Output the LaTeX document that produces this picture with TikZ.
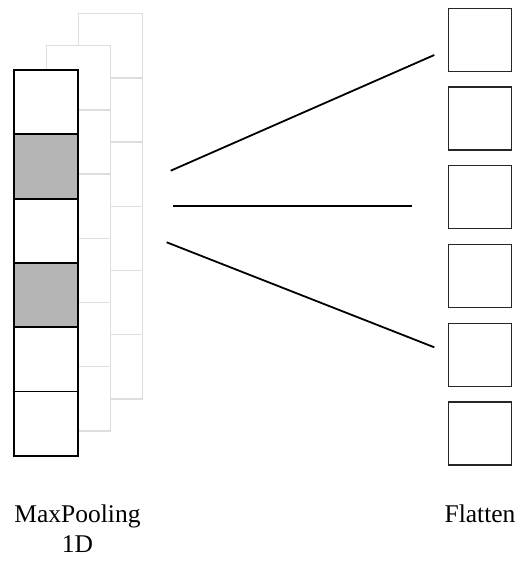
\documentclass[tikz,border=0pt]{standalone}
\usepackage{fontspec}
\setmainfont{Liberation Serif}
\begin{document}
\begin{tikzpicture}[x=1pt,y=-1pt,
  backcell/.style={draw=black!13,line width=1.4pt,fill=white,anchor=north west,
    minimum width=63.5pt,minimum height=64.2pt,inner sep=0pt,outer sep=0pt},
  frontcell/.style={draw=black,line width=1.8pt,fill=white,anchor=north west,
    minimum width=63.5pt,minimum height=64.3pt,inner sep=0pt,outer sep=0pt},
  maxcell/.style={frontcell,fill=black!29},
  flatcell/.style={draw=black!85,line width=1.3pt,fill=white,anchor=north west,
    minimum width=63pt,minimum height=63pt,inner sep=0pt,outer sep=0pt},
  link/.style={draw=black,line width=1.8pt},
  label/.style={font=\fontsize{25.5}{30}\selectfont,align=center,anchor=base,inner sep=0pt}]
\useasboundingbox (0,0) rectangle (517,563);

% rearmost feature map
\foreach \i in {0,...,5}
  \node[backcell] (c\i) at (78.7,13.7+64.2*\i) {};
% middle feature map
\foreach \i in {0,...,5}
  \node[backcell] (b\i) at (46.7,45.7+64.2*\i) {};
% front feature map, pooled maxima shaded
\foreach \i in {0,...,5}{
  \ifnum\i=1 \def\cellstyle{maxcell}\else\ifnum\i=3 \def\cellstyle{maxcell}\else\def\cellstyle{frontcell}\fi\fi
  \node[\cellstyle] (a\i) at (14.3,70+64.3*\i) {};
}

% flattened vector
\foreach \i [evaluate=\i as \y using {8.3+78.74*\i}] in {0,...,5}
  \node[flatcell] (f\i) at (448.5,\y) {};

% fan of connecting strokes
\coordinate (u1) at (170.7,170.7);
\coordinate (u2) at (434.3,55);
\coordinate (m1) at (173.3,206);
\coordinate (m2) at (411.7,206);
\coordinate (l1) at (166.7,242.3);
\coordinate (l2) at (434.3,347.3);
\draw[link] (u1) -- (u2);
\draw[link] (m1) -- (m2);
\draw[link] (l1) -- (l2);

% captions (a two-line node sits on the baseline of its last line)
\node[label] (pool) at (77.5,552) {MaxPooling\\1D};
\node[label] (flat) at (480,522) {Flatten};
\end{tikzpicture}
\end{document}
